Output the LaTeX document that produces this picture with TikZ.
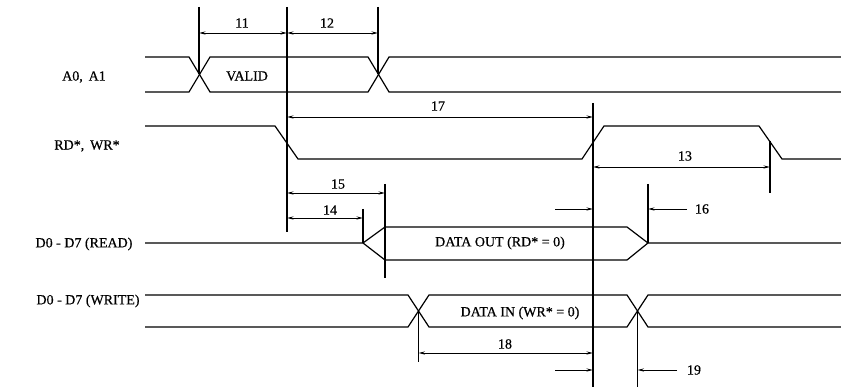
\documentclass[tikz,border=0pt]{standalone}
\usepackage{fontspec}
\setmainfont{Liberation Serif}
\newfontfamily\heavyser[FakeBold=0.5]{Liberation Serif}
\usetikzlibrary{arrows.meta}
\begin{document}
\begin{tikzpicture}[x=1pt,y=-1pt,
  sig/.style={line width=1.2pt, line join=miter},
  refl/.style={line width=1.2pt},
  tip/.tip={Stealth[length=6.5pt,width=3.2pt]},
  dim/.style={line width=0.9pt, tip-tip},
  dimr/.style={line width=0.9pt, -tip},
  lbl/.style={font=\heavyser\fontsize{14}{16}\selectfont, inner sep=0pt},
]
\useasboundingbox[fill=white] (0,0) rectangle (841,387);

% ---- signal names
\node[lbl] (nA)  at (84,77)  {A0,\, A1};
\node[lbl] (nRD) at (87,146) {RD*,\, WR*};
\node[lbl] (nR)  at (84,244) {D0 - D7 (READ)};
\node[lbl] (nW)  at (88,301) {D0 - D7 (WRITE)};

% ---- waveforms
% A0, A1
\draw[sig] (145,57) -- (189,57) -- (210,92) -- (368,92) -- (389,57) -- (841,57);
\draw[sig] (145,92) -- (189,92) -- (210,57) -- (368,57) -- (389,92) -- (841,92);
\node[lbl] (valid) at (247,76) {VALID};
% RD*, WR*
\draw[sig] (145,126) -- (275,126) -- (298,159) -- (582,159) -- (604,126) -- (759,126) -- (782,159) -- (841,159);
% D0-D7 READ
\draw[sig] (145,243) -- (363,243) -- (385,227) -- (627,227) -- (648,243) -- (841,243);
\draw[sig] (363,243) -- (385,260) -- (627,260) -- (648,243);
\node[lbl] (dout) at (500,243) {DATA OUT (RD* = 0)};
% D0-D7 WRITE
\draw[sig] (145,295) -- (408,295) -- (429,327) -- (627,327) -- (648,295) -- (841,295);
\draw[sig] (145,327) -- (408,327) -- (429,295) -- (627,295) -- (648,327) -- (841,327);
\node[lbl] (din) at (520,313) {DATA IN (WR* = 0)};

% ---- reference lines
\coordinate (a1) at (199,7);   \coordinate (a2) at (199,74.5);
\coordinate (b1) at (287,7);   \coordinate (b2) at (287,232);
\coordinate (c1) at (378,7);   \coordinate (c2) at (378,74.5);
\coordinate (d1) at (593,103); \coordinate (d2) at (593,387);
\coordinate (e1) at (770,141); \coordinate (e2) at (770,193);
\coordinate (f1) at (385,184); \coordinate (f2) at (385,278);
\coordinate (g1) at (363,209); \coordinate (g2) at (363,243);
\coordinate (h1) at (648,184); \coordinate (h2) at (648,243);
\coordinate (i1) at (418.5,311); \coordinate (i2) at (418.5,362);
\coordinate (j1) at (637.5,311); \coordinate (j2) at (637.5,387);
\foreach \p in {a,b,c,d,e,f,g,h,i,j} \draw[refl] (\p1) -- (\p2);

% ---- dimension arrows
\coordinate (t11a) at (199,33); \coordinate (t11b) at (287,33);
\draw[dim] (t11a) -- (t11b);
\node[lbl] (l11) at (242,23) {11};
\coordinate (t12b) at (378,33);
\draw[dim] (t11b) -- (t12b);
\node[lbl] (l12) at (327,23) {12};

\coordinate (t17a) at (287,117); \coordinate (t17b) at (593,117);
\draw[dim] (t17a) -- (t17b);
\node[lbl] (l17) at (438,106) {17};

\coordinate (t13a) at (593,167); \coordinate (t13b) at (770,167);
\draw[dim] (t13a) -- (t13b);
\node[lbl] (l13) at (685,156) {13};

\coordinate (t15a) at (287,193); \coordinate (t15b) at (385,193);
\draw[dim] (t15a) -- (t15b);
\node[lbl] (l15) at (338,184) {15};

\coordinate (t14a) at (287,218); \coordinate (t14b) at (363,218);
\draw[dim] (t14a) -- (t14b);
\node[lbl] (l14) at (330,210) {14};

\coordinate (t16a) at (555,209); \coordinate (t16b) at (593,209);
\coordinate (t16c) at (687,209); \coordinate (t16d) at (648,209);
\draw[dimr] (t16a) -- (t16b);
\draw[dimr] (t16c) -- (t16d);
\node[lbl] (l16) at (702,209) {16};

\coordinate (t18a) at (418.5,353); \coordinate (t18b) at (593,353);
\draw[dim] (t18a) -- (t18b);
\node[lbl] (l18) at (505,344) {18};

\coordinate (t19a) at (555,370); \coordinate (t19b) at (593,370);
\coordinate (t19c) at (677,370); \coordinate (t19d) at (637.5,370);
\draw[dimr] (t19a) -- (t19b);
\draw[dimr] (t19c) -- (t19d);
\node[lbl] (l19) at (694,370) {19};
\end{tikzpicture}
\end{document}
